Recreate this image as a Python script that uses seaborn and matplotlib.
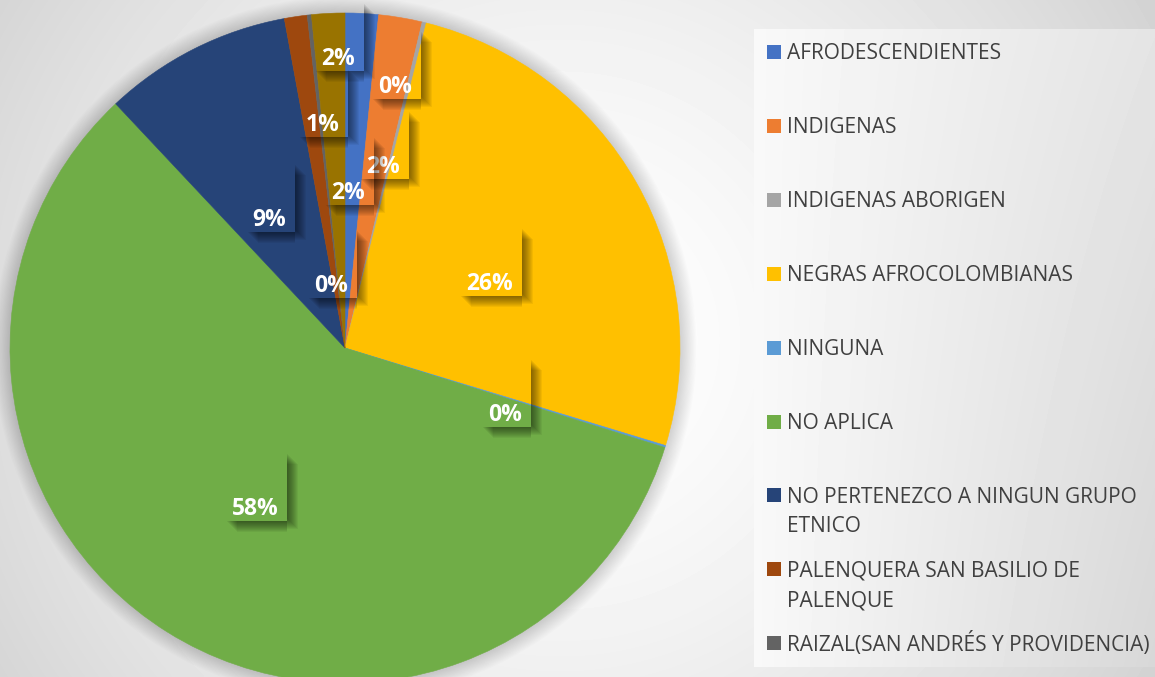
import numpy as np
import matplotlib
matplotlib.use("Agg")
import matplotlib.pyplot as plt
from matplotlib.patches import Rectangle, Circle
from matplotlib.transforms import IdentityTransform, offset_copy
import seaborn as sns

# data (percent of respondents)
categories = ['AFRODESCENDIENTES', 'INDIGENAS', 'INDIGENAS ABORIGEN',
              'NEGRAS AFROCOLOMBIANAS', 'NINGUNA', 'NO APLICA',
              'NO PERTENEZCO A NINGUN GRUPO ETNICO',
              'PALENQUERA SAN BASILIO DE PALENQUE',
              'RAIZAL(SAN ANDRÉS Y PROVIDENCIA)', 'ROM']
shares = [1.6, 2.1, 0.2, 25.8, 0.1, 58.2, 9.1, 1.1, 0.2, 1.6]
legend_labels = ['AFRODESCENDIENTES', 'INDIGENAS', 'INDIGENAS ABORIGEN',
                 'NEGRAS AFROCOLOMBIANAS', 'NINGUNA', 'NO APLICA',
                 'NO PERTENEZCO A NINGUN GRUPO\nETNICO',
                 'PALENQUERA SAN BASILIO DE\nPALENQUE',
                 'RAIZAL(SAN ANDRÉS Y PROVIDENCIA)']

palette = sns.color_palette(['#4472C4', '#ED7D31', '#A5A5A5', '#FFC000', '#5B9BD5',
                             '#70AD47', '#264478', '#9E480E', '#636363', '#997300'])

# where excel put each data label: radius fraction and angular nudge (deg, clockwise)
label_r = [0.47, 0.56, 0.80, 0.475, 0.515, 0.545, 0.45, 0.675, 0.195, 0.87]
label_shift = [-1.8, 2.2, -3.0, 5.0, 5.0, -2.5, -3.2, 2.7, -6.2, 1.5]

sns.set_theme(style='white')
plt.rcParams['font.family'] = ['Open Sans', 'DejaVu Sans']

W, H = 1155, 677
fig = plt.figure(figsize=(W / 100, H / 100), dpi=100)

# background: soft radial gradient plus the lighter legend panel
yy, xx = np.mgrid[0:H, 0:W]
bg = 1 - 0.2 * (np.hypot(xx - 560, yy - 340) / 750) ** 1.5
px0, px1, py0, py1 = 754, W, 29, 667
u = (xx[py0:py1, px0:px1] - px0) / (px1 - px0)
w = (yy[py0:py1, px0:px1] - py0) / (py1 - py0)
bg[py0:py1, px0:px1] = 0.975 - 0.08 * u - 0.05 * u * w
bg_ax = fig.add_axes([0, 0, 1, 1])
bg_ax.imshow(bg, cmap='gray', vmin=0, vmax=1, extent=[0, 1, 0, 1], aspect='auto',
             interpolation='bilinear')
bg_ax.set_xlim(0, 1)
bg_ax.set_ylim(0, 1)
bg_ax.axis('off')

# pie axes: centre at (345, 348) px, radius 335 px
cx, cy, R = 345, 348, 335
ax = fig.add_axes([0, 0, 1, 1])
ax.patch.set_alpha(0)
for k in range(1, 15):
    ax.add_patch(Circle((0, 0), 1 + 0.0035 * k, color='black', alpha=0.012, lw=0, zorder=0))
wedges, _ = ax.pie(shares, colors=palette, startangle=90, counterclock=False, radius=1)
for wd, c in zip(wedges, palette):
    wd.set_edgecolor(c)
    wd.set_linewidth(0.4)
ax.set_xlim(-cx / R, (W - cx) / R)
ax.set_ylim((cy - H) / R, cy / R)
ax.set_aspect('auto')
ax.axis('off')

# data labels
total = sum(shares)
fs = 16.5
cap_pt = 0.714 * fs
txt_trans = offset_copy(ax.transData, fig=fig, x=0, y=-cap_pt / 2, units='points')
texts = []
for wd, val, r, sh in zip(wedges, shares, label_r, label_shift):
    ang = np.deg2rad((wd.theta1 + wd.theta2) / 2 - sh)
    x, y = r * np.cos(ang), r * np.sin(ang)
    t = ax.text(x, y, f'{val / total * 100:.0f}%', ha='center', va='baseline',
                color='white', fontsize=fs, fontweight='bold', transform=txt_trans, zorder=5)
    texts.append(t)

# transparent label boxes with a soft drop shadow on the right and bottom
fig.canvas.draw()
renderer = fig.canvas.get_renderer()
for t in texts:
    bb = t.get_window_extent(renderer)
    anchor = ax.transData.transform(t.get_position())
    base = anchor[1] - cap_pt / 2 * fig.dpi / 72
    x0, x1 = bb.x0 - 9, bb.x1 + 9
    y0, y1 = base - 6, base + 63
    for k in range(1, 12):
        fig.add_artist(Rectangle((x1, y0 - k + 3), k, y1 - y0 - 4, transform=IdentityTransform(),
                                 color='black', alpha=0.05, lw=0))
        fig.add_artist(Rectangle((x0 + k + 3, y0 - k), x1 - x0 - k - 3, k,
                                 transform=IdentityTransform(), color='black', alpha=0.05, lw=0))

# legend drawn by hand so entries keep Excel's even spacing
leg_fs = 15
leg_cap_px = 0.714 * leg_fs * fig.dpi / 72
for i, lab in enumerate(legend_labels):
    yc = 52 + i * 73.9
    fig.add_artist(Rectangle((767 / W, 1 - (yc + 7) / H), 14 / W, 14 / H,
                             transform=fig.transFigure, color=palette[i], lw=0))
    for j, line in enumerate(lab.split('\n')):
        yb = yc + leg_cap_px / 2 + j * 29.5
        fig.text(787 / W, 1 - yb / H, line, ha='left', va='baseline',
                 fontsize=leg_fs, color='#404040')

fig.savefig('out.png', dpi=100)
